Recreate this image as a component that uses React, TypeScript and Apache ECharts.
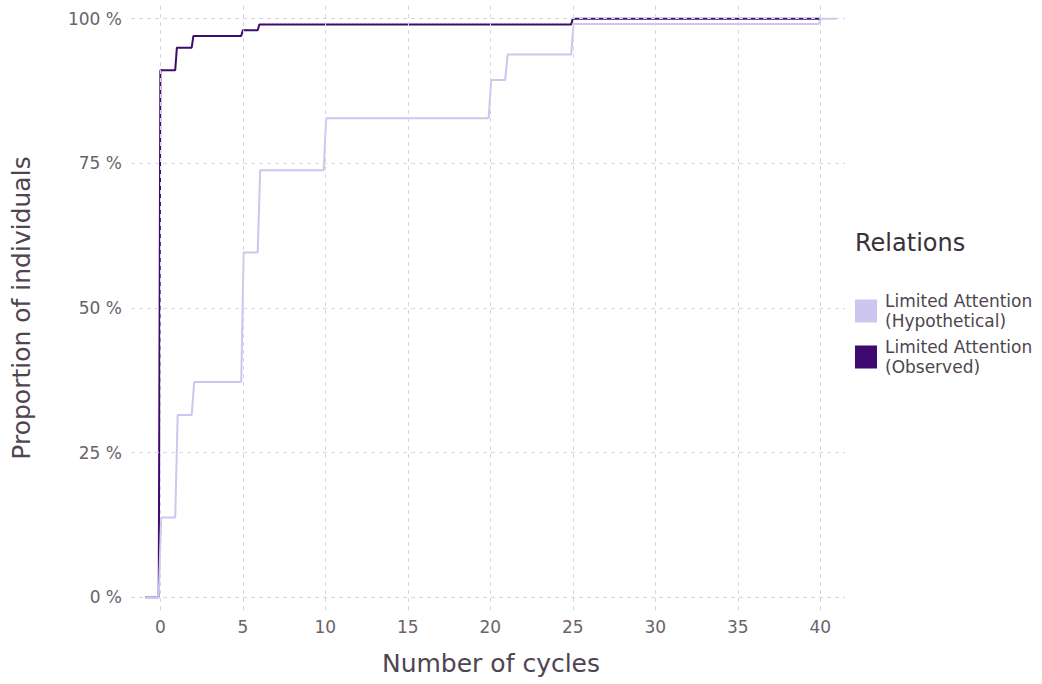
import React, { useEffect, useRef } from "react";
import * as echarts from "echarts";

// Step points: [cycle, proportion]
const observedSteps: number[] = [0, 1, 2, 5, 6, 25];
const observedLevels: number[] = [0.911, 0.95, 0.97, 0.98, 0.99, 1.0];
const observedStart = -0.9;
const observedEnd = 40;

const hypoSteps: number[] = [0, 1, 2, 5, 6, 10, 20, 21, 25, 40];
const hypoLevels: number[] = [0.138, 0.315, 0.372, 0.596, 0.738, 0.828, 0.894, 0.938, 0.991, 1.0];
const hypoStart = -0.9;
const hypoEnd = 41;

const xTicks: number[] = [0, 5, 10, 15, 20, 25, 30, 35, 40];
const yTicks: number[] = [0, 0.25, 0.5, 0.75, 1];

const seriesNames = ["Limited Attention\n(Hypothetical)", "Limited Attention\n(Observed)"];

function buildSteps(start: number, end: number, steps: number[], levels: number[], rise: number): number[][] {
  const pts: number[][] = [[start, 0]];
  let prev = 0;
  steps.forEach((s, i) => {
    pts.push([s - 0.1, prev]);
    pts.push([s + rise, levels[i]]);
    prev = levels[i];
  });
  pts.push([end, prev]);
  return pts;
}

export default function App() {
  const ref = useRef<HTMLDivElement>(null);
  useEffect(() => {
    if (!ref.current) return;
    const chart = echarts.init(ref.current, undefined, { renderer: "svg" });
    const grid = "#d8d4e8";
    const font = "DejaVu Sans";
    const gridLines = [
      ...xTicks.map((v) => ({ xAxis: v })),
      ...yTicks.map((v) => ({ yAxis: v })),
    ];
    chart.setOption({
      animation: false,
      backgroundColor: "#ffffff",
      textStyle: { fontFamily: font },
      grid: { left: 131, right: 197, top: 6, bottom: 74 },
      xAxis: {
        type: "value",
        min: -1.78,
        max: 41.5,
        axisLine: { show: false },
        axisTick: { show: false },
        splitLine: { show: false },
        axisLabel: {
          customValues: xTicks,
          color: "#6b636b",
          fontSize: 17,
          margin: 8,
          fontFamily: font,
        },
        name: "Number of cycles",
        nameLocation: "middle",
        nameGap: 41,
        nameTextStyle: { color: "#4e454f", fontSize: 25, fontFamily: font, padding: [0, 0, 0, 6] },
      },
      yAxis: {
        type: "value",
        min: -0.022,
        max: 1.022,
        axisLine: { show: false },
        axisTick: { show: false },
        splitLine: { show: false },
        axisLabel: {
          customValues: yTicks,
          color: "#6b636b",
          fontSize: 17,
          margin: 9,
          fontFamily: font,
          formatter: (v: number) => Math.round(v * 100) + " %",
        },
        name: "Proportion of individuals",
        nameLocation: "middle",
        nameGap: 97,
        nameTextStyle: { color: "#4e454f", fontSize: 25, fontFamily: font },
      },
      legend: {
        orient: "vertical",
        left: 855,
        top: 291,
        padding: 0,
        itemWidth: 22,
        itemHeight: 23,
        itemGap: 6,
        icon: "rect",
        textStyle: {
          color: "#4e454f",
          fontSize: 17,
          lineHeight: 20,
          fontFamily: font,
          padding: [0, 0, 0, 3],
        },
        data: seriesNames,
      },
      graphic: [
        {
          type: "text",
          left: 855,
          top: 231,
          style: { text: "Relations", fill: "#3a3139", fontSize: 24, fontFamily: font },
        },
      ],
      series: [
        {
          type: "line",
          name: "grid",
          data: [],
          silent: true,
          z: 1,
          markLine: {
            silent: true,
            symbol: "none",
            label: { show: false },
            lineStyle: { color: grid, type: [4, 4], width: 1 },
            data: gridLines,
          },
        },
        {
          type: "line",
          name: seriesNames[1],
          data: buildSteps(observedStart, observedEnd, observedSteps, observedLevels, 0),
          showSymbol: false,
          color: "#3f0a6f",
          lineStyle: { width: 2, color: "#3f0a6f" },
          z: 2,
        },
        {
          type: "line",
          name: seriesNames[0],
          data: buildSteps(hypoStart, hypoEnd, hypoSteps, hypoLevels, 0.05),
          showSymbol: false,
          color: "#cdc6f0",
          lineStyle: { width: 2, color: "#cdc6f0" },
          z: 3,
        },
      ],
    });
    return () => chart.dispose();
  }, []);
  return (
    <div
      ref={ref}
      style={{ position: "fixed", left: 0, top: 0, width: 1042, height: 684 }}
    />
  );
}
